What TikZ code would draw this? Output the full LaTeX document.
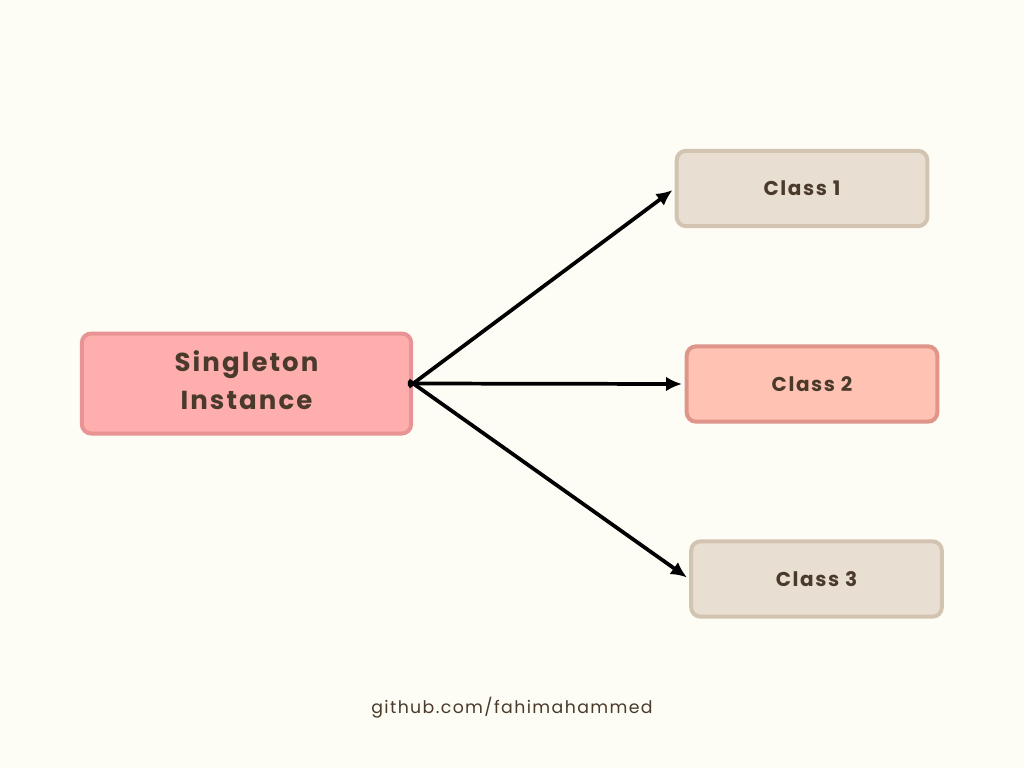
\documentclass[tikz,border=0pt]{standalone}
\usepackage{fontspec}
\setmainfont{Poppins}[LetterSpace=8]
\usetikzlibrary{arrows.meta}
\definecolor{bgcol}{HTML}{FDFDF5}
\definecolor{txtcol}{HTML}{4A3A2C}
\definecolor{singfill}{HTML}{FFAEAE}
\definecolor{singline}{HTML}{E89494}
\definecolor{beigefill}{HTML}{E8DFD2}
\definecolor{beigeline}{HTML}{D3C4B1}
\definecolor{peachfill}{HTML}{FFC2B3}
\definecolor{peachline}{HTML}{DF968A}
\tikzstyle{box}=[rectangle,rounded corners=7pt,line width=3pt,text=txtcol,align=center]
\tikzstyle{singbox}=[box,fill=singfill,draw=singline,minimum width=247pt,minimum height=75pt,font=\fontsize{19.5}{28.5}\selectfont\bfseries]
\tikzstyle{classbox}=[box,minimum width=188pt,minimum height=56.5pt,font=\fontsize{15}{18}\selectfont\bfseries]
\tikzstyle{link}=[line width=2.8pt,-{Latex[length=12pt,width=11pt]},shorten <=-4pt,shorten >=2pt]

\begin{document}
\begin{tikzpicture}[x=0.75pt,y=-0.75pt]
\fill[bgcol] (0,0) rectangle (1024,768);
\useasboundingbox (0,0) rectangle (1024,768);
\node[singbox] (sing) at (246.5,383.5) {};
\node[singbox,draw=none,fill=none] (singtxt) at (246.5,380) {Singleton\\Instance};
\node[classbox,fill=beigefill,draw=beigeline] (c1) at (802,188.5) {Class 1};
\node[classbox,fill=peachfill,draw=peachline] (c2) at (812,384) {Class 2};
\node[classbox,fill=beigefill,draw=beigeline] (c3) at (816.5,579) {Class 3};
\draw[link] (sing.east) -- (c1.west);
\draw[link] (sing.east) -- (c2.west);
\draw[link] (sing.east) -- (c3.west);
\node[text=txtcol,font=\fontsize{13}{16}\selectfont] (gh) at (512,708) {github.com/fahimahammed};
\end{tikzpicture}
\end{document}
